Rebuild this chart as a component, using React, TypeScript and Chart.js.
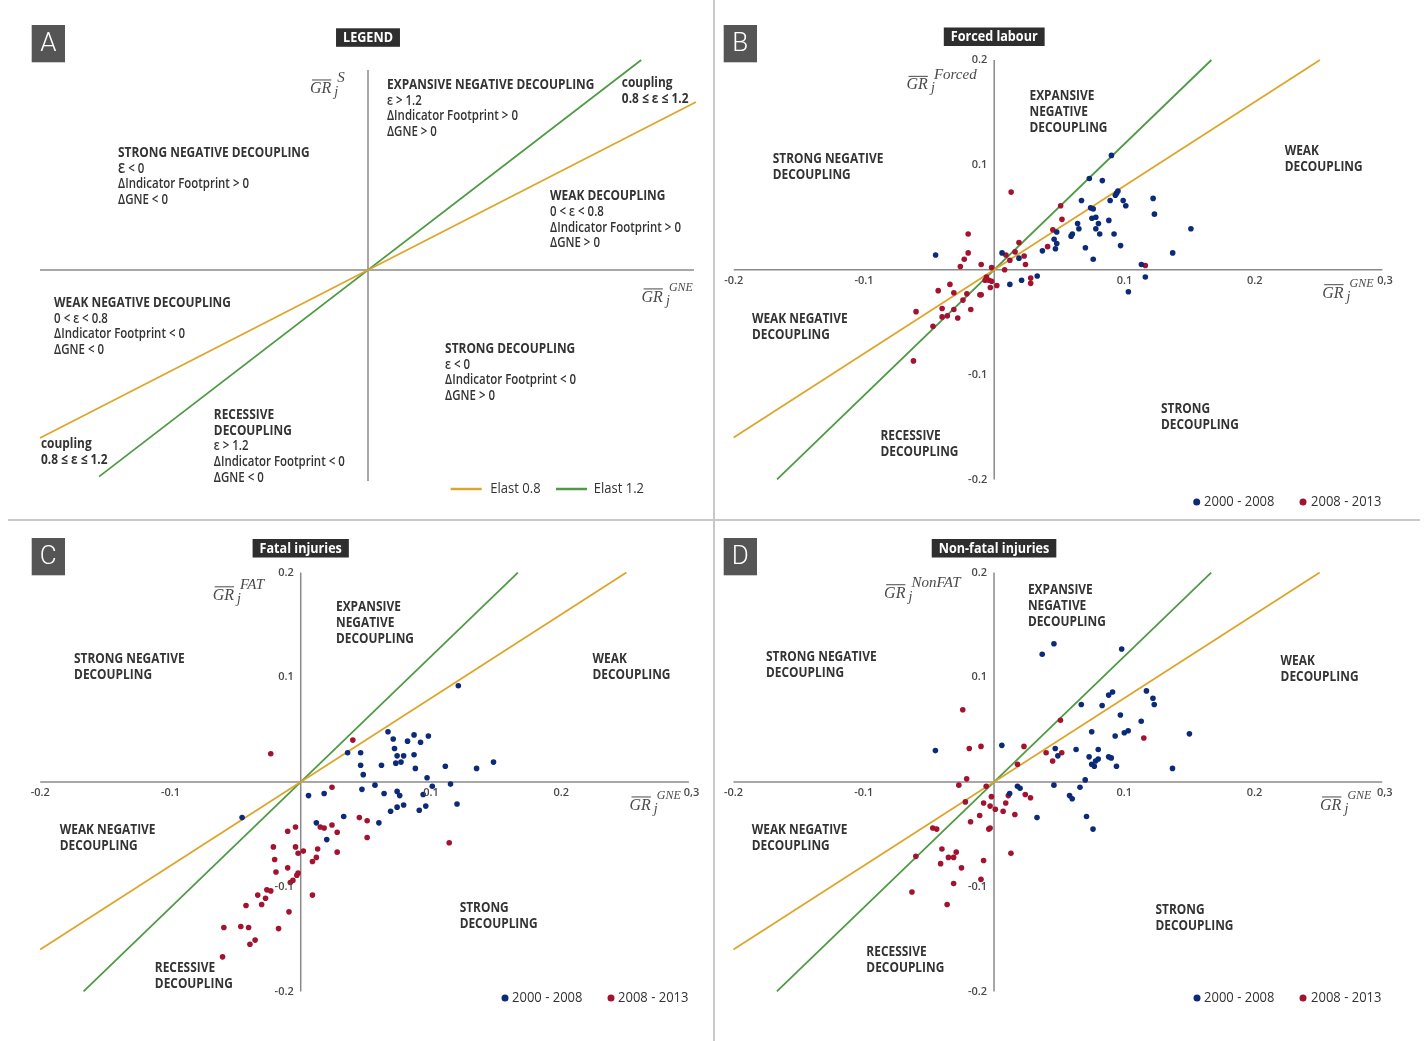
import React, { useEffect, useRef } from "react";
import { Chart, registerables } from "chart.js";

Chart.register(...registerables);

type Pt = [number, number];

// ---------------- DATA ----------------
const seriesNames = ["2000 - 2008", "2008 - 2013"];
const elastNames = ["Elast 0.8", "Elast 1.2"];

const xTickValues = [-0.2, -0.1, 0.1, 0.2, 0.3];
const xTickLabels = ["-0.2", "-0.1", "0.1", "0.2", "0,3"];
const yTickValues = [0.2, 0.1, -0.1, -0.2];
const yTickLabels = ["0.2", "0.1", "-0.1", "-0.2"];

const elast08Line: Pt[] = [[-0.2, -0.16], [0.25, 0.2]];
const elast12Line: Pt[] = [[-0.1667, -0.2], [0.1667, 0.2]];
const legendElast08Line: Pt[] = [[-1, -0.8], [1, 0.8]];
const legendElast12Line: Pt[] = [[-0.82, -0.984], [0.833, 1.0]];

const forcedEarly: Pt[] = [
  [-0.045, 0.014], [0.090, 0.109], [0.073, 0.087], [0.083, 0.085], [0.067, 0.066], [0.074, 0.059],
  [0.076, 0.058], [0.089, 0.066], [0.094, 0.073], [0.095, 0.075], [0.093, 0.071], [0.099, 0.066],
  [0.101, 0.061], [0.122, 0.068], [0.123, 0.053], [0.151, 0.039], [0.075, 0.049], [0.078, 0.050],
  [0.080, 0.044], [0.088, 0.047], [0.078, 0.039], [0.081, 0.034], [0.092, 0.034], [0.064, 0.044],
  [0.065, 0.039], [0.060, 0.034], [0.059, 0.032], [0.048, 0.036], [0.046, 0.029], [0.048, 0.025],
  [0.047, 0.020], [0.037, 0.018], [0.070, 0.021], [0.076, 0.010], [0.097, 0.023], [0.137, 0.016],
  [0.113, 0.005], [0.116, -0.007], [0.103, -0.021], [0.006, 0.016], [0.019, 0.011], [0.012, -0.014],
  [0.021, -0.010], [0.033, -0.006],
];
const forcedLate: Pt[] = [
  [0.013, 0.074], [0.051, 0.061], [0.052, 0.048], [0.045, 0.038], [0.041, 0.022], [0.019, 0.026],
  [0.016, 0.017], [0.023, 0.013], [0.024, 0.005], [0.009, 0.014], [0.012, 0.009], [0.008, 0.000],
  [-0.020, 0.034], [-0.020, 0.016], [-0.023, 0.010], [-0.026, 0.003], [-0.010, 0.005], [-0.002, 0.002],
  [-0.006, -0.007], [-0.007, -0.010], [-0.004, -0.010], [-0.002, -0.011], [0.002, -0.015], [-0.003, -0.017],
  [-0.010, -0.024], [-0.011, -0.024], [0.028, -0.008], [0.028, -0.013], [-0.034, -0.014], [-0.043, -0.020],
  [-0.031, -0.022], [-0.021, -0.023], [-0.024, -0.029], [-0.018, -0.038], [-0.031, -0.038], [-0.040, -0.037],
  [-0.060, -0.040], [-0.040, -0.045], [-0.036, -0.044], [-0.028, -0.046], [-0.047, -0.054], [-0.062, -0.087],
  [0.116, 0.004],
];

const fatalEarly: Pt[] = [
  [-0.045, -0.034], [0.067, 0.048], [0.071, 0.041], [0.087, 0.045], [0.098, 0.044], [0.082, 0.039],
  [0.092, 0.038], [0.072, 0.032], [0.074, 0.025], [0.079, 0.025], [0.087, 0.026], [0.073, 0.018],
  [0.077, 0.019], [0.088, 0.013], [0.062, 0.016], [0.046, 0.028], [0.036, 0.028], [0.046, 0.016],
  [0.048, 0.007], [0.111, 0.015], [0.135, 0.013], [0.148, 0.019], [0.097, 0.004], [0.101, -0.004],
  [0.115, -0.002], [0.047, -0.007], [0.057, -0.003], [0.064, -0.011], [0.074, -0.009], [0.076, -0.013],
  [0.094, -0.012], [0.006, -0.013], [0.018, -0.011], [0.079, -0.022], [0.074, -0.024], [0.096, -0.023],
  [0.091, -0.027], [0.069, -0.028], [0.120, -0.021], [0.033, -0.033], [0.012, -0.039], [0.060, -0.039],
  [0.020, -0.055], [0.121, 0.092],
];
const fatalLate: Pt[] = [
  [-0.023, 0.027], [0.040, 0.040], [0.024, -0.005], [0.045, -0.034], [0.051, -0.037], [0.051, -0.053],
  [0.114, -0.058], [-0.004, -0.043], [-0.010, -0.047], [0.015, -0.043], [0.018, -0.044], [0.024, -0.041],
  [0.028, -0.048], [0.028, -0.067], [-0.021, -0.062], [-0.004, -0.062], [-0.002, -0.068], [0.002, -0.066],
  [0.013, -0.064], [0.012, -0.072], [0.009, -0.076], [-0.020, -0.074], [-0.019, -0.086], [-0.010, -0.082],
  [-0.002, -0.087], [-0.003, -0.089], [-0.006, -0.094], [-0.008, -0.096], [-0.026, -0.103], [-0.023, -0.104],
  [-0.033, -0.108], [-0.027, -0.111], [0.009, -0.108], [-0.042, -0.118], [-0.030, -0.117], [-0.009, -0.124],
  [-0.059, -0.139], [-0.046, -0.138], [-0.040, -0.139], [-0.017, -0.140], [-0.035, -0.151], [-0.039, -0.155],
  [-0.060, -0.167],
];

const nonFatalEarly: Pt[] = [
  [-0.045, 0.030], [0.037, 0.122], [0.046, 0.132], [0.098, 0.127], [0.067, 0.074], [0.083, 0.073],
  [0.088, 0.083], [0.091, 0.086], [0.117, 0.087], [0.122, 0.080], [0.123, 0.074], [0.097, 0.064],
  [0.113, 0.058], [0.075, 0.048], [0.093, 0.044], [0.100, 0.047], [0.103, 0.049], [0.150, 0.046],
  [0.137, 0.013], [0.063, 0.031], [0.047, 0.032], [0.049, 0.025], [0.080, 0.031], [0.073, 0.024],
  [0.080, 0.022], [0.078, 0.020], [0.075, 0.017], [0.077, 0.015], [0.088, 0.024], [0.090, 0.023],
  [0.094, 0.015], [0.006, 0.035], [0.070, 0.002], [0.066, -0.005], [0.046, -0.003], [0.018, -0.004],
  [0.020, -0.006], [0.012, -0.011], [0.058, -0.013], [0.060, -0.016], [0.033, -0.034], [0.071, -0.033],
  [0.076, -0.045],
];
const nonFatalLate: Pt[] = [
  [-0.024, 0.069], [-0.019, 0.032], [-0.010, 0.034], [0.023, 0.034], [0.051, 0.059], [0.040, 0.028],
  [0.045, 0.020], [0.052, 0.028], [0.018, 0.017], [0.115, 0.042], [-0.021, 0.003], [-0.027, -0.003],
  [-0.006, -0.004], [-0.002, -0.014], [-0.008, -0.020], [-0.003, -0.023], [0.001, -0.026], [0.011, -0.013],
  [0.009, -0.020], [0.007, -0.028], [0.016, -0.031], [0.024, -0.012], [0.028, -0.015], [-0.022, -0.019],
  [-0.011, -0.032], [-0.018, -0.038], [-0.003, -0.044], [-0.004, -0.045], [-0.047, -0.044], [-0.044, -0.045],
  [0.013, -0.068], [-0.060, -0.071], [-0.040, -0.064], [-0.029, -0.067], [-0.035, -0.072], [-0.031, -0.072],
  [-0.041, -0.078], [-0.025, -0.082], [-0.008, -0.075], [-0.031, -0.097], [-0.010, -0.093], [-0.063, -0.105],
  [-0.036, -0.117],
];

// ---------------- STYLE ----------------
const BLUE = "#0b2a78";
const RED = "#a3132f";
const ORANGE = "#dea52b";
const GREEN = "#4f9a45";
const AXIS = "#8a8a8a";
const TEXT = "#333333";
const SANS = '"Open Sans", "Noto Sans", sans-serif';
const SERIF = '"Liberation Serif", "DejaVu Serif", serif';

type Block = { x: number; y: number; lines: string[]; bold: number };
type GRLabel = { x: number; y: number; sup: string; supSize: number };

interface PanelCfg {
  letter: string;
  title: string;
  left: number;
  top: number;
  width: number;
  height: number;
  padding: { left: number; right: number; top: number; bottom: number };
  xRange: [number, number];
  yRange: [number, number];
  hAxis: [number, number];
  vAxis: [number, number];
  ticks: boolean;
  early?: Pt[];
  late?: Pt[];
  line08: Pt[];
  line12: Pt[];
  blocks: Block[];
  lineGap: number;
  grLabels: GRLabel[];
  letterBox: [number, number];
  titleY: number;
  legendKind: "series" | "elast";
  legendPos: [number, number, number, number, number]; // x1, text1, x2, text2, y
}

function quadBlocks(p: { [k: string]: [number, number] }): Block[] {
  return [
    { x: p.exp[0], y: p.exp[1], lines: ["EXPANSIVE", "NEGATIVE", "DECOUPLING"], bold: 3 },
    { x: p.sneg[0], y: p.sneg[1], lines: ["STRONG NEGATIVE", "DECOUPLING"], bold: 2 },
    { x: p.weak[0], y: p.weak[1], lines: ["WEAK", "DECOUPLING"], bold: 2 },
    { x: p.wneg[0], y: p.wneg[1], lines: ["WEAK NEGATIVE", "DECOUPLING"], bold: 2 },
    { x: p.rec[0], y: p.rec[1], lines: ["RECESSIVE", "DECOUPLING"], bold: 2 },
    { x: p.str[0], y: p.str[1], lines: ["STRONG", "DECOUPLING"], bold: 2 },
  ];
}

const panels: PanelCfg[] = [
  {
    letter: "A",
    title: "LEGEND",
    left: 0,
    top: 0,
    width: 712,
    height: 519,
    padding: { left: 40, right: 16, top: 60, bottom: 39 },
    xRange: [-1, 1],
    yRange: [-1, 1],
    hAxis: [-1, 0.994],
    vAxis: [0.952, -1.005],
    ticks: false,
    line08: legendElast08Line,
    line12: legendElast12Line,
    lineGap: 15.8,
    blocks: [
      { x: 0.058, y: 0.881, lines: ["EXPANSIVE NEGATIVE DECOUPLING", "ε > 1.2", "ΔIndicator Footprint > 0", "ΔGNE > 0"], bold: 1 },
      { x: 0.774, y: 0.89, lines: ["coupling", "0.8 ≤ ε ≤ 1.2"], bold: 0 },
      { x: -0.762, y: 0.557, lines: ["STRONG NEGATIVE DECOUPLING", "Ɛ < 0", "ΔIndicator Footprint > 0", "ΔGNE < 0"], bold: 1 },
      { x: 0.555, y: 0.352, lines: ["WEAK DECOUPLING", "0 < ε < 0.8", "ΔIndicator Footprint > 0", "ΔGNE > 0"], bold: 1 },
      { x: -0.957, y: -0.157, lines: ["WEAK NEGATIVE DECOUPLING", "0 < ε < 0.8", "ΔIndicator Footprint < 0", "ΔGNE < 0"], bold: 1 },
      { x: 0.235, y: -0.376, lines: ["STRONG DECOUPLING", "ε < 0", "ΔIndicator Footprint < 0", "ΔGNE > 0"], bold: 1 },
      { x: -0.47, y: -0.69, lines: ["RECESSIVE", "DECOUPLING", "ε > 1.2", "ΔIndicator Footprint < 0", "ΔGNE < 0"], bold: 2 },
      { x: -0.997, y: -0.829, lines: ["coupling", "0.8 ≤ ε ≤ 1.2"], bold: 0 },
    ],
    grLabels: [
      { x: -0.177, y: 0.843, sup: "S", supSize: 15 },
      { x: 0.834, y: -0.152, sup: "GNE", supSize: 12 },
    ],
    letterBox: [31.7, 25],
    titleY: 28.3,
    legendKind: "elast",
    legendPos: [450.7, 489.3, 556, 592.7, 489],
  },
  {
    letter: "B",
    title: "Forced labour",
    left: 716,
    top: 0,
    width: 708,
    height: 519,
    padding: { left: 17.7, right: 39, top: 60, bottom: 39.6 },
    xRange: [-0.2, 0.3],
    yRange: [-0.2, 0.2],
    hAxis: [-0.2, 0.298],
    vAxis: [0.2, -0.2],
    ticks: true,
    early: forcedEarly,
    late: forcedLate,
    line08: elast08Line,
    line12: elast12Line,
    lineGap: 16,
    blocks: quadBlocks({
      exp: [0.0271, 0.166], sneg: [-0.17, 0.106], weak: [0.223, 0.113],
      wneg: [-0.186, -0.047], rec: [-0.0873, -0.159], str: [0.128, -0.133],
    }),
    grLabels: [
      { x: -0.0673, y: 0.172, sup: "Forced", supSize: 15 },
      { x: 0.2518, y: -0.0267, sup: "GNE", supSize: 12 },
    ],
    letterBox: [7.7, 25],
    titleY: 27.5,
    legendKind: "series",
    legendPos: [480.7, 488, 587, 595, 502],
  },
  {
    letter: "C",
    title: "Fatal injuries",
    left: 0,
    top: 522,
    width: 712,
    height: 519,
    padding: { left: 40.2, right: 20.5, top: 50.6, bottom: 49.6 },
    xRange: [-0.2, 0.3],
    yRange: [-0.2, 0.2],
    hAxis: [-0.2, 0.298],
    vAxis: [0.2, -0.2],
    ticks: true,
    early: fatalEarly,
    late: fatalLate,
    line08: elast08Line,
    line12: elast12Line,
    lineGap: 16,
    blocks: quadBlocks({
      exp: [0.0271, 0.167], sneg: [-0.174, 0.117], weak: [0.224, 0.117],
      wneg: [-0.185, -0.046], rec: [-0.112, -0.178], str: [0.122, -0.12],
    }),
    grLabels: [
      { x: -0.0676, y: 0.174, sup: "FAT", supSize: 15 },
      { x: 0.2524, y: -0.0267, sup: "GNE", supSize: 12 },
    ],
    letterBox: [31.7, 16],
    titleY: 17,
    legendKind: "series",
    legendPos: [505, 512, 611, 618, 476],
  },
  {
    letter: "D",
    title: "Non-fatal injuries",
    left: 716,
    top: 522,
    width: 708,
    height: 519,
    padding: { left: 17.5, right: 39.2, top: 50.6, bottom: 49.6 },
    xRange: [-0.2, 0.3],
    yRange: [-0.2, 0.2],
    hAxis: [-0.2, 0.298],
    vAxis: [0.2, -0.2],
    ticks: true,
    early: nonFatalEarly,
    late: nonFatalLate,
    line08: elast08Line,
    line12: elast12Line,
    lineGap: 16,
    blocks: quadBlocks({
      exp: [0.026, 0.183], sneg: [-0.175, 0.119], weak: [0.22, 0.116],
      wneg: [-0.186, -0.046], rec: [-0.098, -0.162], str: [0.124, -0.122],
    }),
    grLabels: [
      { x: -0.0844, y: 0.176, sup: "NonFAT", supSize: 15 },
      { x: 0.2503, y: -0.0267, sup: "GNE", supSize: 12 },
    ],
    letterBox: [7.7, 16],
    titleY: 17,
    legendKind: "series",
    legendPos: [481, 488, 587, 595, 476],
  },
];

// ---------------- DRAW HELPERS ----------------
function drawText(
  ctx: CanvasRenderingContext2D,
  s: string,
  x: number,
  y: number,
  font: string,
  color: string,
  align: CanvasTextAlign = "left",
  sx = 1
) {
  ctx.save();
  ctx.font = font;
  ctx.fillStyle = color;
  ctx.textBaseline = "middle";
  ctx.textAlign = align;
  ctx.translate(x, y);
  ctx.scale(sx, 1);
  ctx.fillText(s, 0, 0);
  ctx.restore();
}

function drawGR(ctx: CanvasRenderingContext2D, g: GRLabel, x: number, y: number) {
  ctx.save();
  ctx.fillStyle = "#4a4a4a";
  ctx.strokeStyle = "#4a4a4a";
  ctx.textBaseline = "alphabetic";
  ctx.textAlign = "left";
  ctx.font = `italic 16px ${SERIF}`;
  ctx.fillText("GR", x, y);
  const w = ctx.measureText("GR").width;
  ctx.lineWidth = 1;
  ctx.beginPath();
  ctx.moveTo(x + 2, y - 13);
  ctx.lineTo(x + w, y - 13);
  ctx.stroke();
  ctx.font = `italic 14px ${SERIF}`;
  ctx.fillText("j", x + w + 3, y + 3);
  ctx.font = `italic ${g.supSize}px ${SERIF}`;
  ctx.fillText(g.sup, x + w + 6, y - 10.5);
  ctx.restore();
}

function toXY(pts: Pt[]) {
  return pts.map(([x, y]) => ({ x, y }));
}

function makeDecor(cfg: PanelCfg) {
  return {
    id: "decor" + cfg.letter,
    beforeDatasetsDraw(chart: any) {
      const ctx: CanvasRenderingContext2D = chart.ctx;
      const X = (v: number) => chart.scales.x.getPixelForValue(v);
      const Y = (v: number) => chart.scales.y.getPixelForValue(v);
      ctx.save();
      ctx.strokeStyle = AXIS;
      ctx.lineWidth = 1.5;
      ctx.beginPath();
      ctx.moveTo(X(cfg.hAxis[0]), Y(0));
      ctx.lineTo(X(cfg.hAxis[1]), Y(0));
      ctx.moveTo(X(0), Y(cfg.vAxis[0]));
      ctx.lineTo(X(0), Y(cfg.vAxis[1]));
      ctx.stroke();
      ctx.restore();
    },
    afterDatasetsDraw(chart: any) {
      const ctx: CanvasRenderingContext2D = chart.ctx;
      const X = (v: number) => chart.scales.x.getPixelForValue(v);
      const Y = (v: number) => chart.scales.y.getPixelForValue(v);
      const ox = X(0);
      const oy = Y(0);

      // tick labels
      if (cfg.ticks) {
        xTickValues.forEach((v, i) =>
          drawText(ctx, xTickLabels[i], X(v), oy + 11, `600 11px ${SANS}`, "#4a4a4a", "center")
        );
        yTickValues.forEach((v, i) =>
          drawText(ctx, yTickLabels[i], ox - 7, Y(v), `600 11px ${SANS}`, "#4a4a4a", "right")
        );
      }

      // quadrant text blocks
      cfg.blocks.forEach((b) => {
        const bx = X(b.x);
        const by = Y(b.y);
        b.lines.forEach((ln, i) => {
          const isBold = i < b.bold || (cfg.ticks === false && b.bold === 0);
          const font = isBold ? `700 14px ${SANS}` : `600 13.5px ${SANS}`;
          drawText(ctx, ln, bx, by + i * cfg.lineGap, font, TEXT, "left", isBold ? 0.85 : 0.85);
        });
      });

      // GR labels
      cfg.grLabels.forEach((g) => drawGR(ctx, g, X(g.x), Y(g.y)));

      // letter box
      const [lx, ly] = cfg.letterBox;
      ctx.save();
      ctx.fillStyle = "#555555";
      ctx.fillRect(lx, ly, 33.3, 37.3);
      ctx.restore();
      drawText(ctx, cfg.letter, lx + 16.6, ly + 19, `300 26px Roboto, ${SANS}`, "#ffffff", "center");

      // title box
      ctx.save();
      ctx.font = `700 15px ${SANS}`;
      const tw = ctx.measureText(cfg.title).width * 0.84;
      ctx.fillStyle = "#2e2e2e";
      ctx.fillRect(ox - tw / 2 - 7, cfg.titleY, tw + 14, 18.5);
      ctx.restore();
      drawText(ctx, cfg.title, ox, cfg.titleY + 9.5, `700 15px ${SANS}`, "#ffffff", "center", 0.84);

      // legend
      const [x1, t1, x2, t2, ly2] = cfg.legendPos;
      if (cfg.legendKind === "series") {
        ctx.save();
        ctx.fillStyle = BLUE;
        ctx.beginPath();
        ctx.arc(x1, ly2, 3.5, 0, Math.PI * 2);
        ctx.fill();
        ctx.fillStyle = RED;
        ctx.beginPath();
        ctx.arc(x2, ly2, 3.5, 0, Math.PI * 2);
        ctx.fill();
        ctx.restore();
        drawText(ctx, seriesNames[0], t1, ly2, `14px ${SANS}`, TEXT, "left", 0.93);
        drawText(ctx, seriesNames[1], t2, ly2, `14px ${SANS}`, TEXT, "left", 0.93);
      } else {
        ctx.save();
        ctx.lineWidth = 2.5;
        ctx.strokeStyle = ORANGE;
        ctx.beginPath();
        ctx.moveTo(x1, ly2);
        ctx.lineTo(x1 + 31, ly2);
        ctx.stroke();
        ctx.strokeStyle = GREEN;
        ctx.beginPath();
        ctx.moveTo(x2, ly2);
        ctx.lineTo(x2 + 31, ly2);
        ctx.stroke();
        ctx.restore();
        drawText(ctx, elastNames[0], t1 + 1, ly2, `14px ${SANS}`, TEXT, "left", 0.93);
        drawText(ctx, elastNames[1], t2 + 1, ly2, `14px ${SANS}`, TEXT, "left", 0.93);
      }
    },
  };
}

function Panel({ cfg }: { cfg: PanelCfg }) {
  const ref = useRef<HTMLCanvasElement>(null);
  useEffect(() => {
    const canvas = ref.current;
    if (!canvas) return;
    const datasets: any[] = [];
    if (cfg.early)
      datasets.push({
        label: seriesNames[0],
        data: toXY(cfg.early),
        backgroundColor: BLUE,
        borderWidth: 0,
        pointRadius: 2.8,
        showLine: false,
        clip: false,
      });
    if (cfg.late)
      datasets.push({
        label: seriesNames[1],
        data: toXY(cfg.late),
        backgroundColor: RED,
        borderWidth: 0,
        pointRadius: 2.8,
        showLine: false,
        clip: false,
      });
    datasets.push({
      label: elastNames[0],
      data: toXY(cfg.line08),
      borderColor: ORANGE,
      borderWidth: 1.8,
      pointRadius: 0,
      showLine: true,
      fill: false,
      clip: false,
    });
    datasets.push({
      label: elastNames[1],
      data: toXY(cfg.line12),
      borderColor: GREEN,
      borderWidth: 1.8,
      pointRadius: 0,
      showLine: true,
      fill: false,
      clip: false,
    });
    const chart = new Chart(canvas, {
      type: "scatter",
      data: { datasets },
      options: {
        animation: false,
        responsive: false,
        devicePixelRatio: 1,
        events: [],
        layout: { padding: cfg.padding },
        plugins: { legend: { display: false }, tooltip: { enabled: false } },
        scales: {
          x: { type: "linear", min: cfg.xRange[0], max: cfg.xRange[1], display: false },
          y: { type: "linear", min: cfg.yRange[0], max: cfg.yRange[1], display: false },
        },
      },
      plugins: [makeDecor(cfg)],
    } as any);
    return () => chart.destroy();
  }, [cfg]);
  return (
    <canvas
      ref={ref}
      width={cfg.width}
      height={cfg.height}
      style={{ position: "absolute", left: cfg.left, top: cfg.top, width: cfg.width, height: cfg.height }}
    />
  );
}

export default function App() {
  return (
    <div
      style={{
        position: "fixed",
        left: 0,
        top: 0,
        width: 1424,
        height: 1041,
        background: "#ffffff",
        overflow: "hidden",
      }}
    >
      {panels.map((p) => (
        <Panel key={p.letter} cfg={p} />
      ))}
      <div style={{ position: "absolute", left: 713, top: 0, width: 2, height: 1041, background: "#c9c9c9" }} />
      <div style={{ position: "absolute", left: 8, top: 518.5, width: 1412, height: 2, background: "#c9c9c9" }} />
    </div>
  );
}
